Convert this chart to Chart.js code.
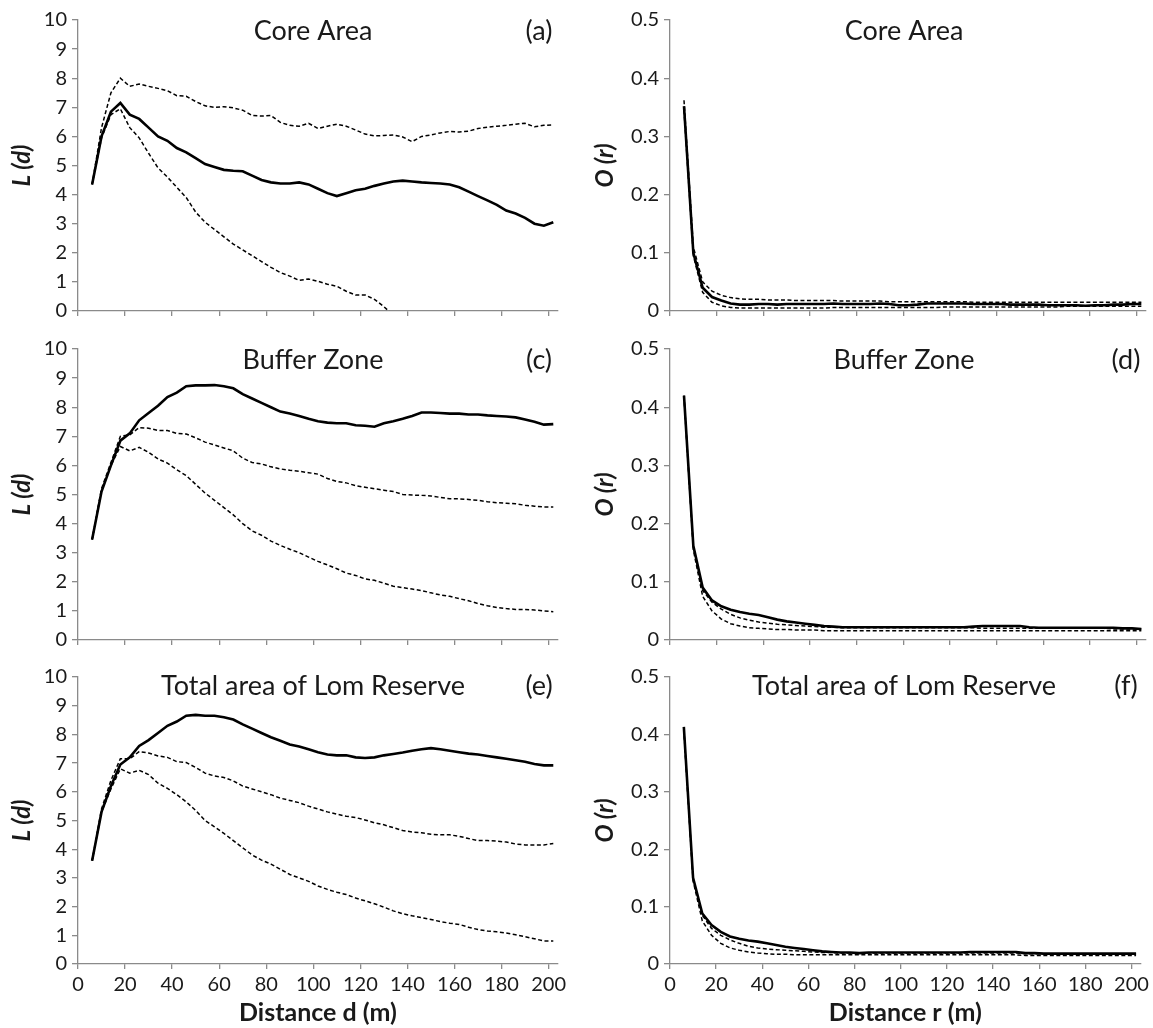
<!DOCTYPE html>
<html>
<head>
<meta charset="utf-8">
<title>L(d) and O(r) - Lom Reserve</title>
<script src="https://cdn.jsdelivr.net/npm/chart.js@4.4.1/dist/chart.umd.min.js"></script>
<style>
  html, body { margin: 0; padding: 0; background: #fff; }
  body { width: 1153px; height: 1028px; position: relative; overflow: hidden; }
  canvas { position: absolute; }
</style>
</head>
<body>
<canvas id="chartA" width="576" height="330" style="left:0px;top:0px"></canvas>
<canvas id="chartB" width="577" height="330" style="left:576px;top:0px"></canvas>
<canvas id="chartC" width="576" height="330" style="left:0px;top:330px"></canvas>
<canvas id="chartD" width="577" height="330" style="left:576px;top:330px"></canvas>
<canvas id="chartE" width="576" height="368" style="left:0px;top:660px"></canvas>
<canvas id="chartF" width="577" height="368" style="left:576px;top:660px"></canvas>
<script>
// distances (m)
const distance = [6, 10, 14, 18, 22, 26, 30, 34, 38, 42, 46, 50, 54, 58, 62, 66, 70, 74, 78, 82,
  86, 90, 94, 98, 102, 106, 110, 114, 118, 122, 126, 130, 134, 138, 142, 146, 150, 154, 158, 162,
  166, 170, 174, 178, 182, 186, 190, 194, 198, 202];

// L(d) - Core Area
const coreL = [4.35, 6.0, 6.85, 7.15, 6.75, 6.6, 6.3, 6.0, 5.85, 5.6, 5.45, 5.25, 5.05, 4.95, 4.85, 4.82, 4.8, 4.65, 4.5, 4.42,
  4.38, 4.38, 4.42, 4.35, 4.2, 4.05, 3.95, 4.05, 4.15, 4.2, 4.3, 4.38, 4.45, 4.48, 4.45, 4.42, 4.4, 4.38, 4.35, 4.25,
  4.1, 3.95, 3.8, 3.65, 3.45, 3.35, 3.2, 3.0, 2.93, 3.05];
const coreLUpper = [4.35, 6.3, 7.5, 8.0, 7.72, 7.8, 7.72, 7.65, 7.57, 7.4, 7.38, 7.2, 7.05, 7.0, 7.02, 6.98, 6.9, 6.72, 6.7, 6.72,
  6.48, 6.38, 6.35, 6.45, 6.27, 6.35, 6.42, 6.35, 6.22, 6.08, 6.02, 6.03, 6.05, 5.98, 5.82, 6.0, 6.05, 6.12, 6.17, 6.15,
  6.18, 6.27, 6.32, 6.35, 6.38, 6.42, 6.45, 6.33, 6.38, 6.4];
const coreLLower = [4.35, 5.95, 6.75, 6.95, 6.3, 5.95, 5.42, 4.92, 4.6, 4.25, 3.9, 3.4, 3.05, 2.8, 2.55, 2.3, 2.1, 1.9, 1.7, 1.5,
  1.32, 1.2, 1.05, 1.1, 1.02, 0.92, 0.85, 0.68, 0.55, 0.55, 0.4, 0.15, -0.15];

// L(d) - Buffer Zone
const bufferL = [3.45, 5.1, 6.0, 6.85, 7.1, 7.55, 7.8, 8.05, 8.35, 8.5, 8.72, 8.75, 8.75, 8.76, 8.72, 8.65, 8.45, 8.3, 8.15, 8.0,
  7.85, 7.78, 7.7, 7.6, 7.52, 7.47, 7.45, 7.45, 7.38, 7.36, 7.33, 7.45, 7.52, 7.6, 7.7, 7.82, 7.82, 7.8, 7.78, 7.78,
  7.75, 7.75, 7.72, 7.7, 7.68, 7.65, 7.58, 7.5, 7.4, 7.42];
const bufferLUpper = [3.45, 5.2, 6.1, 7.0, 7.05, 7.3, 7.28, 7.2, 7.2, 7.1, 7.08, 6.95, 6.8, 6.7, 6.6, 6.5, 6.25, 6.1, 6.05, 5.95,
  5.88, 5.83, 5.8, 5.75, 5.7, 5.55, 5.45, 5.4, 5.3, 5.25, 5.2, 5.15, 5.1, 5.0, 4.98, 4.97, 4.95, 4.9, 4.85, 4.85,
  4.83, 4.8, 4.75, 4.72, 4.7, 4.68, 4.63, 4.6, 4.57, 4.57];
const bufferLLower = [3.45, 5.15, 6.0, 6.65, 6.5, 6.62, 6.45, 6.22, 6.08, 5.85, 5.65, 5.35, 5.05, 4.8, 4.55, 4.3, 4.0, 3.75, 3.6, 3.4,
  3.25, 3.12, 3.0, 2.85, 2.7, 2.58, 2.45, 2.3, 2.22, 2.1, 2.05, 1.95, 1.85, 1.8, 1.75, 1.7, 1.62, 1.55, 1.5, 1.42,
  1.35, 1.25, 1.18, 1.12, 1.08, 1.05, 1.05, 1.03, 1.0, 0.97];

// L(d) - Total area of Lom Reserve
const totalL = [3.6, 5.3, 6.2, 6.95, 7.2, 7.6, 7.8, 8.05, 8.3, 8.45, 8.65, 8.68, 8.65, 8.65, 8.6, 8.52, 8.35, 8.2, 8.05, 7.9,
  7.78, 7.65, 7.58, 7.48, 7.38, 7.3, 7.27, 7.27, 7.2, 7.18, 7.2, 7.27, 7.32, 7.37, 7.43, 7.48, 7.52, 7.48, 7.43, 7.38,
  7.33, 7.3, 7.25, 7.2, 7.15, 7.1, 7.05, 6.97, 6.92, 6.92];
const totalLUpper = [3.6, 5.4, 6.4, 7.15, 7.15, 7.4, 7.35, 7.25, 7.2, 7.05, 7.02, 6.85, 6.65, 6.55, 6.5, 6.38, 6.2, 6.1, 6.0, 5.9,
  5.78, 5.7, 5.62, 5.5, 5.4, 5.3, 5.22, 5.15, 5.1, 5.02, 4.92, 4.85, 4.75, 4.65, 4.6, 4.57, 4.52, 4.5, 4.5, 4.45,
  4.37, 4.3, 4.3, 4.28, 4.25, 4.18, 4.15, 4.15, 4.15, 4.2];
const totalLLower = [3.6, 5.3, 6.1, 6.8, 6.65, 6.75, 6.6, 6.3, 6.12, 5.9, 5.65, 5.35, 5.0, 4.78, 4.55, 4.3, 4.05, 3.8, 3.62, 3.48,
  3.3, 3.12, 3.0, 2.88, 2.72, 2.6, 2.5, 2.42, 2.3, 2.2, 2.1, 1.98, 1.85, 1.75, 1.68, 1.62, 1.55, 1.48, 1.42, 1.38,
  1.28, 1.2, 1.15, 1.12, 1.08, 1.02, 0.95, 0.88, 0.8, 0.8];

// O(r) - Core Area
const coreO = [0.352, 0.1, 0.04, 0.024, 0.018, 0.013, 0.011, 0.011, 0.012, 0.012, 0.011, 0.012, 0.012, 0.012, 0.012, 0.012, 0.013, 0.012, 0.012, 0.012,
  0.012, 0.013, 0.012, 0.01, 0.01, 0.011, 0.013, 0.013, 0.013, 0.013, 0.013, 0.012, 0.012, 0.012, 0.012, 0.011, 0.011, 0.011, 0.011, 0.01,
  0.01, 0.01, 0.01, 0.009, 0.01, 0.01, 0.011, 0.011, 0.012, 0.012];
const coreOUpper = [0.362, 0.11, 0.05, 0.034, 0.027, 0.023, 0.021, 0.02, 0.02, 0.019, 0.019, 0.019, 0.018, 0.018, 0.018, 0.018, 0.018, 0.017, 0.017, 0.017,
  0.017, 0.017, 0.016, 0.016, 0.016, 0.016, 0.016, 0.016, 0.016, 0.016, 0.016, 0.015, 0.015, 0.015, 0.015, 0.015, 0.015, 0.015, 0.015, 0.015,
  0.015, 0.015, 0.015, 0.015, 0.015, 0.015, 0.015, 0.015, 0.015, 0.015];
const coreOLower = [0.345, 0.095, 0.032, 0.015, 0.009, 0.006, 0.005, 0.005, 0.005, 0.005, 0.005, 0.005, 0.005, 0.005, 0.005, 0.005, 0.006, 0.006, 0.006, 0.006,
  0.006, 0.006, 0.006, 0.006, 0.006, 0.006, 0.006, 0.006, 0.007, 0.007, 0.007, 0.007, 0.007, 0.007, 0.007, 0.007, 0.007, 0.007, 0.007, 0.007,
  0.007, 0.008, 0.008, 0.008, 0.008, 0.008, 0.008, 0.008, 0.008, 0.008];

// O(r) - Buffer Zone
const bufferO = [0.42, 0.162, 0.09, 0.068, 0.058, 0.052, 0.048, 0.045, 0.043, 0.039, 0.035, 0.032, 0.03, 0.028, 0.026, 0.024, 0.023, 0.022, 0.022, 0.022,
  0.022, 0.022, 0.022, 0.022, 0.022, 0.022, 0.022, 0.022, 0.022, 0.022, 0.022, 0.023, 0.024, 0.024, 0.024, 0.024, 0.024, 0.022, 0.021, 0.021,
  0.021, 0.021, 0.021, 0.021, 0.021, 0.021, 0.021, 0.02, 0.02, 0.019];
const bufferOUpper = [0.42, 0.16, 0.085, 0.065, 0.053, 0.044, 0.038, 0.034, 0.031, 0.029, 0.027, 0.026, 0.025, 0.024, 0.023, 0.022, 0.022, 0.021, 0.021, 0.021,
  0.021, 0.021, 0.021, 0.021, 0.021, 0.021, 0.021, 0.021, 0.021, 0.021, 0.021, 0.021, 0.02, 0.02, 0.02, 0.02, 0.02, 0.02, 0.02, 0.02,
  0.02, 0.02, 0.02, 0.02, 0.02, 0.02, 0.019, 0.019, 0.019, 0.019];
const bufferOLower = [0.418, 0.155, 0.075, 0.05, 0.036, 0.028, 0.024, 0.021, 0.02, 0.019, 0.018, 0.018, 0.017, 0.017, 0.017, 0.016, 0.016, 0.016, 0.016, 0.016,
  0.016, 0.016, 0.016, 0.016, 0.016, 0.016, 0.016, 0.016, 0.016, 0.016, 0.016, 0.016, 0.016, 0.016, 0.016, 0.016, 0.016, 0.016, 0.016, 0.016,
  0.016, 0.016, 0.016, 0.016, 0.016, 0.016, 0.016, 0.016, 0.016, 0.016];

// O(r) - Total area of Lom Reserve
const totalO = [0.413, 0.15, 0.088, 0.068, 0.056, 0.048, 0.044, 0.041, 0.039, 0.036, 0.033, 0.03, 0.028, 0.026, 0.024, 0.022, 0.021, 0.02, 0.02, 0.019,
  0.02, 0.02, 0.02, 0.02, 0.02, 0.02, 0.02, 0.02, 0.02, 0.02, 0.02, 0.021, 0.021, 0.021, 0.021, 0.021, 0.021, 0.019, 0.019, 0.018,
  0.018, 0.018, 0.018, 0.018, 0.018, 0.018, 0.018, 0.018, 0.018, 0.018];
const totalOUpper = [0.41, 0.148, 0.085, 0.062, 0.05, 0.042, 0.036, 0.031, 0.028, 0.026, 0.025, 0.024, 0.023, 0.022, 0.021, 0.02, 0.02, 0.019, 0.019, 0.019,
  0.019, 0.019, 0.019, 0.019, 0.019, 0.019, 0.019, 0.019, 0.019, 0.019, 0.019, 0.019, 0.019, 0.019, 0.019, 0.019, 0.019, 0.018, 0.018, 0.018,
  0.018, 0.018, 0.018, 0.018, 0.018, 0.018, 0.018, 0.018, 0.018, 0.018];
const totalOLower = [0.408, 0.145, 0.075, 0.05, 0.036, 0.028, 0.024, 0.021, 0.019, 0.018, 0.017, 0.017, 0.016, 0.016, 0.016, 0.016, 0.016, 0.016, 0.016, 0.016,
  0.016, 0.016, 0.016, 0.016, 0.016, 0.016, 0.016, 0.016, 0.016, 0.016, 0.016, 0.016, 0.016, 0.016, 0.016, 0.016, 0.016, 0.015, 0.015, 0.015,
  0.015, 0.015, 0.015, 0.015, 0.015, 0.015, 0.015, 0.015, 0.015, 0.015];

const axisGrey = '#8a8a8a';
const textColor = '#1a1a1a';

//panel titles drawn inside the canvas
const panelTitles = {
  id: 'panelTitles',
  afterDraw(chart, args, opts) {
    const ctx = chart.ctx;
    ctx.save();
    ctx.fillStyle = textColor;
    ctx.font = '27px Lato';
    ctx.textAlign = 'center';
    ctx.textBaseline = 'middle';
    ctx.fillText(opts.title, opts.titleX, opts.titleY);
    if (opts.letter) {
      ctx.fillText(opts.letter, opts.letterX, opts.titleY);
    }
    ctx.restore();
  }
};

function toPoints(values) {
  return values.map((v, i) => ({x: distance[i], y: v}));
}

const rowLayout = [
  {padTop: 20, xHeight: 19, titleY: 31},
  {padTop: 19, xHeight: 20, titleY: 30},
  {padTop: 16, xHeight: 64, titleY: 26}
];

const panels = [
  {id: 'chartA', row: 0, side: 'L', title: 'Core Area', letter: '(a)', obs: coreL, up: coreLUpper, low: coreLLower},
  {id: 'chartB', row: 0, side: 'O', title: 'Core Area', letter: '', obs: coreO, up: coreOUpper, low: coreOLower},
  {id: 'chartC', row: 1, side: 'L', title: 'Buffer Zone', letter: '(c)', obs: bufferL, up: bufferLUpper, low: bufferLLower},
  {id: 'chartD', row: 1, side: 'O', title: 'Buffer Zone', letter: '(d)', obs: bufferO, up: bufferOUpper, low: bufferOLower},
  {id: 'chartE', row: 2, side: 'L', title: 'Total area of Lom Reserve', letter: '(e)', obs: totalL, up: totalLUpper, low: totalLLower},
  {id: 'chartF', row: 2, side: 'O', title: 'Total area of Lom Reserve', letter: '(f)', obs: totalO, up: totalOUpper, low: totalOLower}
];

panels.forEach(p => {
  const row = rowLayout[p.row];
  const isL = p.side === 'L';
  const bottomRow = p.row === 2;
  const yWidth = isL ? 78 : 94;

  new Chart(document.getElementById(p.id), {
    type: 'line',
    data: {
      datasets: [
        {data: toPoints(p.obs), borderColor: '#000', borderWidth: 2.6},
        {data: toPoints(p.up), borderColor: '#000', borderWidth: 1.5, borderDash: [4, 2.5]},
        {data: toPoints(p.low), borderColor: '#000', borderWidth: 1.5, borderDash: [4, 2.5]}
      ]
    },
    options: {
      responsive: false,
      animation: false,
      events: [],
      elements: {point: {radius: 0}, line: {tension: 0}},
      layout: {padding: {top: row.padTop, right: isL ? 18 : 7, bottom: 0, left: 0}},
      plugins: {
        legend: {display: false},
        tooltip: {enabled: false},
        panelTitles: {
          title: p.title,
          letter: p.letter,
          titleX: isL ? 313 : 328,
          letterX: isL ? 539 : 550,
          titleY: row.titleY
        }
      },
      scales: {
        x: {
          type: 'linear',
          min: 0,
          max: 204,
          border: {display: true, color: axisGrey, width: 1.3},
          grid: {display: true, drawOnChartArea: false, drawTicks: true, tickLength: 5, color: axisGrey, lineWidth: 1.3},
          ticks: {
            display: bottomRow,
            stepSize: 20,
            includeBounds: false,
            padding: 4,
            color: textColor,
            font: {family: 'Lato', size: 20},
            maxRotation: 0
          },
          title: {
            display: bottomRow,
            text: isL ? 'Distance d (m)' : 'Distance r (m)',
            color: textColor,
            font: {family: 'Lato', size: 25, weight: 'bold'},
            padding: {top: 0, bottom: 0}
          },
          afterFit(scale) { scale.height = row.xHeight; }
        },
        y: {
          min: 0,
          max: isL ? 10 : 0.5,
          border: {display: true, color: axisGrey, width: 1.3},
          grid: {display: true, drawOnChartArea: false, drawTicks: true, tickLength: 6, color: axisGrey, lineWidth: 1.3},
          ticks: {
            stepSize: isL ? 1 : 0.1,
            padding: 5,
            color: textColor,
            font: {family: 'Lato', size: 20}
          },
          title: {
            display: true,
            text: isL ? 'L (d)' : 'O (r)',
            color: textColor,
            font: {family: 'Lato', size: 24, weight: 'bold', style: 'italic'},
            padding: {top: isL ? 8 : 15, bottom: 0}
          },
          afterFit(scale) { scale.width = yWidth; }
        }
      }
    },
    plugins: [panelTitles]
  });
});
</script>
</body>
</html>
